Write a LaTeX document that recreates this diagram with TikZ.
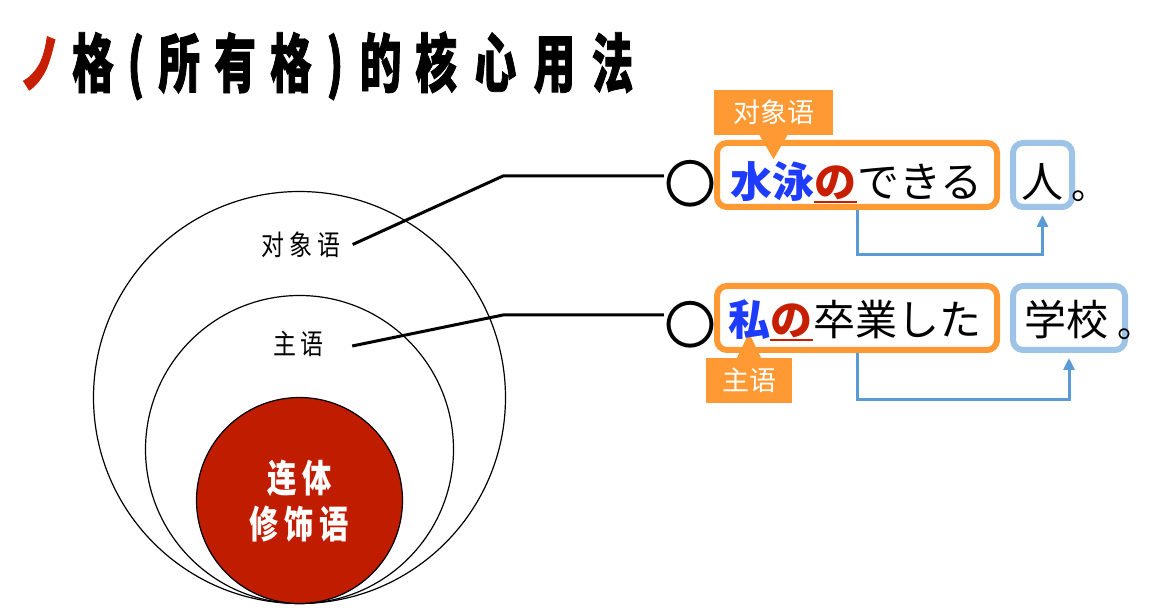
\documentclass[tikz,border=0pt]{standalone}
\usepackage{fontspec}
\usetikzlibrary{arrows.meta}
\newfontfamily\titlefont[FakeStretch=0.65,BoldFeatures={FakeBold=1.2}]{Noto Sans CJK SC}
\newfontfamily\labfont[FakeStretch=0.82]{Noto Sans CJK SC}
\newfontfamily\redfont[FakeStretch=0.77]{Noto Sans CJK SC}
\newfontfamily\tabfont{Noto Sans CJK SC}
\newfontfamily\jpfont{Noto Sans CJK JP}
\definecolor{orng}{RGB}{255,153,51}
\definecolor{lblue}{RGB}{157,195,230}
\definecolor{arblue}{RGB}{91,155,213}
\definecolor{dred}{RGB}{192,28,0}
\definecolor{nored}{RGB}{200,30,0}
\definecolor{vblue}{RGB}{30,60,255}
\newcommand\bx[2]{\makebox[#1pt][c]{#2}}
\begin{document}
\begin{tikzpicture}[x=1pt,y=-1pt,
  ring/.style={draw=black, line width=1.2pt, circle, inner sep=0pt},
  lab/.style={inner sep=0pt, font=\labfont\fontsize{28}{30}\selectfont},
  conn/.style={line width=3pt, black},
  sent/.style={inner sep=0pt, anchor=base west, font=\jpfont\fontsize{42}{50}\selectfont},
  hl/.style={sent, font=\jpfont\bfseries\fontsize{42}{50}\selectfont},
  ringmark/.style={inner sep=0pt, font=\jpfont\fontsize{52}{56}\selectfont},
  obox/.style={draw=orng, line width=6pt, rounded corners=10pt, minimum width=280pt, minimum height=64pt, inner sep=0pt},
  bbox/.style={draw=lblue, line width=6pt, rounded corners=10pt, minimum height=64pt, inner sep=0pt},
  tab/.style={fill=orng, text=white, inner sep=0pt, font=\tabfont\fontsize{27}{30}\selectfont, minimum height=45pt},
  link/.style={draw=arblue, line width=3pt, -{Triangle[length=12pt,width=11pt]}},
  uline/.style={draw=nored, line width=2pt}
]
\fill[white] (0,0) rectangle (1168,612);
\useasboundingbox (0,0) rectangle (1168,612);

% title
\node[anchor=base west, inner sep=0pt, font=\titlefont\bfseries\fontsize{64}{70}\selectfont] (title) at (12,87)
  {\textcolor{nored}{\bx{56.5}{ノ}}\bx{48.5}{格}\bx{37.5}{(}\bx{49}{所}\bx{63}{有}\bx{48.5}{格}\bx{39.5}{)}\bx{52}{的}\bx{59}{核}\bx{59.5}{心}\bx{58.5}{用}\bx{57.5}{法}};

% nested circles
\node[ring, minimum size=412pt] (c1) at (299.5,397.5) {};
\node[ring, minimum size=308pt] (c2) at (299.5,449.5) {};
\node[ring, fill=dred, minimum size=206pt] (c3) at (299.5,500.5) {};

\node[lab] (obj) at (300.5,244.5) {\bx{28}{对}\bx{28}{象}\bx{28}{语}};
\node[lab] (subj) at (298.5,343.5) {\bx{27}{主}\bx{27}{语}};
\node[inner sep=0pt, text=white, align=center, font=\redfont\bfseries\fontsize{38}{46}\selectfont] (core) at (299.5,501)
  {\bx{35}{连}\bx{35}{体}\\\bx{35}{修}\bx{35}{饰}\bx{35}{语}};

% markers
\node[ringmark] (m1) at (690,183.5) {〇};
\node[ringmark] (m2) at (690,325) {〇};

% connectors
\coordinate (k1) at (503,176);
\coordinate (k2) at (503,315);
\draw[conn] ([xshift=10pt]obj.east) -- (k1) -- (k1 -| m1.west);
\draw[conn] ([xshift=26.5pt,yshift=-2.5pt]subj.east) -- (k2) -- (k2 -| m2.west);

% boxes
\node[obox] (ob1) at (857,175) {};
\node[bbox, minimum width=59pt] (bb1) at (1042.5,175) {};
\node[obox] (ob2) at (857,318) {};
\node[bbox, minimum width=112pt] (bb2) at (1069,318) {};

% arrows
\draw[link, shorten >=5pt] (ob1.south) -- ++(0,45) -| (bb1.south);
\draw[link, shorten >=5pt] (ob2.south) -- ++(0,47) -| (bb2.south);

% tabs
\node[tab, minimum width=119pt] (t1) at (773.5,112.5) {对象语};
\fill[orng] ([xshift=-14pt]t1.south) -- ++(28,0) -- ++(-14,24) -- cycle;
\node[tab, minimum width=86pt] (t2) at (749,380.5) {主语};
\fill[orng] ([xshift=-12pt]t2.north) -- ++(24,0) -- ++(-12,-25) -- cycle;

% sentence 1
\node[hl, text=vblue] (w1) at (730,197.5) {水泳};
\node[hl, text=nored] (n1) at (w1.base east) {の};
\node[sent] (d1) at (n1.base east) {できる};
\draw[uline] ([yshift=-4.5pt]n1.base west) -- ([yshift=-4.5pt]n1.base east);
\node[sent] (h1) at (1021,197.5) {人};
\node[sent, font=\jpfont\fontsize{36}{50}\selectfont] (p1) at (1071,200) {。};

% sentence 2
\node[hl, text=vblue] (w2) at (728,335.5) {私};
\node[hl, text=nored] (n2) at (w2.base east) {の};
\node[sent] (d2) at (n2.base east) {卒業した};
\draw[uline] ([yshift=-4.5pt]n2.base west) -- ([yshift=-4.5pt]n2.base east);
\node[sent] (h2) at (1024,335.5) {学校};
\node[sent, font=\jpfont\fontsize{36}{50}\selectfont] (p2) at (1117,338) {。};
\end{tikzpicture}
\end{document}
